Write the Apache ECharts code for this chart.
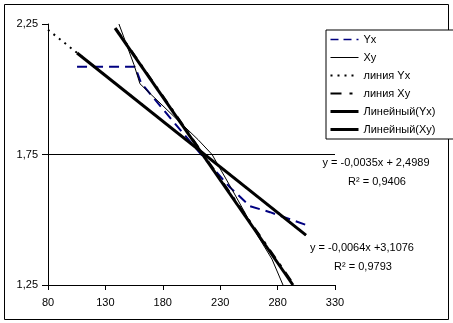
<!DOCTYPE html>
<html><head><meta charset="utf-8">
<script src="https://cdn.jsdelivr.net/npm/echarts@6/dist/echarts.min.js"></script>
<style>html,body{margin:0;padding:0;background:#fff}#c{width:453px;height:323px}</style>
</head><body><div id="c"></div>
<script>
// ---- data ----
const seriesNames = ['Yx', 'Xy', 'линия Yx', 'линия Xy', 'Линейный(Yx)', 'Линейный(Xy)'];
const yxX = [105.3, 155.8, 161.0, 190.6, 215.0, 238.5, 256.0, 273.4, 290.8, 305.6];
const yxY = [2.086, 2.086, 2.025, 1.868, 1.742, 1.624, 1.552, 1.529, 1.502, 1.479];
const xyX = [141.8, 154.9, 160.1, 210.7, 222.9, 240.3, 262.9, 275.1, 284.7];
const xyY = [2.25, 2.094, 2.021, 1.807, 1.75, 1.616, 1.437, 1.349, 1.25];
const lineYxX = [80, 304.7];
const lineYxY = [2.228, 1.441];
const lineXyX = [139.0, 294.5];
const lineXyY = [2.234, 1.25];
const trendYxX = [105.3, 304.7];
const trendYxY = [2.139, 1.441];
const trendXyX = [138.4, 293.4];
const trendXyY = [2.234, 1.25];
const xTicks = [80, 130, 180, 230, 280, 330];
const yTicks = [1.25, 1.75, 2.25];
const gridLineValue = 1.75;
const eqYx = ['y = -0,0035x + 2,4989', 'R² = 0,9406'];
const eqXy = ['y = -0,0064x +3,1076', 'R² = 0,9793'];

const pairs = (xs, ys) => xs.map((x, i) => [x, ys[i]]);
const FONT = "'Liberation Sans', Arial, sans-serif";
const chart = echarts.init(document.getElementById('c'), null, {renderer: 'canvas'});
const fmt = v => String(v).replace('.', ',');

const styles = [
  {color: '#000080', width: 2, type: [10, 6], z: 2, lw: 1.5, ltype: [8, 5]},
  {color: '#000', width: 1, type: 'solid', z: 3, lw: 1, ltype: 'solid'},
  {color: '#000', width: 2, type: [2, 5], z: 3, lw: 2, ltype: [2, 5]},
  {color: '#000', width: 2, type: [10, 7, 3, 7], z: 3, lw: 2, ltype: [11, 8, 3, 8]},
  {color: '#000', width: 3, type: 'solid', z: 4, lw: 3, ltype: 'solid'},
  {color: '#000', width: 3, type: 'solid', z: 4, lw: 3, ltype: 'solid'}
];
const xsList = [yxX, xyX, lineYxX, lineXyX, trendYxX, trendXyX];
const ysList = [yxY, xyY, lineYxY, lineXyY, trendYxY, trendXyY];

const series = seriesNames.map((name, i) => {
  const st = styles[i];
  const s = {
    type: 'line', name: name, symbol: 'none', showSymbol: false, animation: false, clip: true,
    data: pairs(xsList[i], ysList[i]), z: st.z, color: st.color,
    itemStyle: {color: st.color, opacity: 0},
    lineStyle: {color: st.color, width: st.width, type: st.type}
  };
  if (i === 0) {
    s.markLine = {silent: true, symbol: 'none', animation: false, label: {show: false},
      lineStyle: {color: '#000', width: 1, type: 'solid'}, data: [{yAxis: gridLineValue}]};
  }
  return s;
});

chart.setOption({
  animation: false,
  backgroundColor: '#fff',
  textStyle: {fontFamily: FONT},
  grid: {left: 48, right: 118, top: 24, bottom: 38, containLabel: false},
  xAxis: {
    type: 'value', min: xTicks[0], max: xTicks[xTicks.length - 1],
    axisLine: {show: true, onZero: false, lineStyle: {color: '#000', width: 1}},
    axisTick: {show: true, inside: false, length: 5, lineStyle: {color: '#000'}, customValues: xTicks},
    axisLabel: {customValues: xTicks, color: '#000', fontSize: 11, fontFamily: FONT, margin: 12},
    splitLine: {show: false}
  },
  yAxis: {
    type: 'value', min: yTicks[0], max: yTicks[yTicks.length - 1],
    axisLine: {show: true, onZero: false, lineStyle: {color: '#000', width: 1}},
    axisTick: {show: true, inside: false, length: 6, lineStyle: {color: '#000'}, customValues: yTicks},
    axisLabel: {customValues: yTicks, color: '#000', fontSize: 11, fontFamily: FONT, margin: 10, formatter: v => fmt(v)},
    splitLine: {show: false}
  },
  legend: {
    orient: 'vertical', left: 326, top: 30, width: 119,
    padding: [4, 30, 4, 3], itemGap: 7, itemWidth: 28, itemHeight: 11,
    borderColor: '#000', borderWidth: 1, backgroundColor: '#fff',
    itemStyle: {opacity: 0},
    textStyle: {color: '#000', fontSize: 11, fontFamily: FONT},
    data: seriesNames.map((name, i) => ({
      name: name,
      itemStyle: {opacity: 0},
      lineStyle: {color: styles[i].color, width: styles[i].lw, type: styles[i].ltype}
    }))
  },
  series: series,
  graphic: [
    {type: 'rect', shape: {x: 4.5, y: 4.5, width: 444, height: 315}, style: {fill: 'none', stroke: '#000', lineWidth: 1}, z: 0, silent: true},
    {type: 'text', x: 376, y: 163, style: {text: eqYx[0], textAlign: 'center', textVerticalAlign: 'middle', fill: '#000', font: '11px ' + FONT}},
    {type: 'text', x: 377, y: 182, style: {text: eqYx[1], textAlign: 'center', textVerticalAlign: 'middle', fill: '#000', font: '11px ' + FONT}},
    {type: 'text', x: 362, y: 248, style: {text: eqXy[0], textAlign: 'center', textVerticalAlign: 'middle', fill: '#000', font: '11px ' + FONT}},
    {type: 'text', x: 363, y: 267, style: {text: eqXy[1], textAlign: 'center', textVerticalAlign: 'middle', fill: '#000', font: '11px ' + FONT}}
  ]
});
</script>
</body></html>
